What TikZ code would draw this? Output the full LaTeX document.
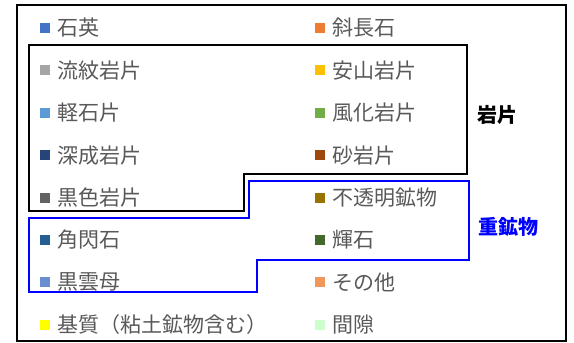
\documentclass[tikz,border=0pt]{standalone}
\usepackage{fontspec}
\setmainfont{Noto Sans CJK JP}
\usepackage{xcolor}
\usetikzlibrary{positioning}

\definecolor{legtext}{HTML}{595959}
\definecolor{cQuartz}{HTML}{4472C4}
\definecolor{cPlag}{HTML}{ED7D31}
\definecolor{cRhyo}{HTML}{A5A5A5}
\definecolor{cAnde}{HTML}{FFC000}
\definecolor{cPumice}{HTML}{5B9BD5}
\definecolor{cWeath}{HTML}{70AD47}
\definecolor{cPluton}{HTML}{264478}
\definecolor{cSand}{HTML}{9E480E}
\definecolor{cBlack}{HTML}{636363}
\definecolor{cOpaque}{HTML}{997300}
\definecolor{cHorn}{HTML}{255E91}
\definecolor{cPyrox}{HTML}{43682B}
\definecolor{cBiot}{HTML}{698ED0}
\definecolor{cOther}{HTML}{F1975A}
\definecolor{cMatrix}{HTML}{FFFF00}
\definecolor{cPore}{HTML}{CCFFCC}

\begin{document}
\begin{tikzpicture}[x=1pt, y=-1pt, node distance=32pt and 7pt,
    every node/.style={font=\fontsize{21}{24}\selectfont},
    swatch/.style={rectangle, minimum size=10pt, inner sep=0pt},
    item/.style={inner sep=0pt, text=legtext, anchor=west},
    group/.style={font=\fontsize{20}{24}\selectfont\bfseries, inner sep=0pt, anchor=west},
]
\useasboundingbox (0,0) rectangle (574,343);

% Frame
\draw[line width=1.8pt] (17,5) rectangle (566,341);

% Left column
\node[swatch, fill=cQuartz] (sq1) at (45,28) {};
\node[swatch, fill=cRhyo, below=of sq1] (sq3) {};
\node[swatch, fill=cPumice, below=of sq3] (sq5) {};
\node[swatch, fill=cPluton, below=of sq5] (sq7) {};
\node[swatch, fill=cBlack, below=of sq7] (sq9) {};
\node[swatch, fill=cHorn, below=of sq9] (sq11) {};
\node[swatch, fill=cBiot, below=of sq11] (sq13) {};
\node[swatch, fill=cMatrix, below=of sq13] (sq15) {};

\node[item, right=of sq1] (quartz) {石英};
\node[item, right=of sq3] (rhyolite) {流紋岩片};
\node[item, right=of sq5] (pumice) {軽石片};
\node[item, right=of sq7] (plutonic) {深成岩片};
\node[item, right=of sq9] (blackrock) {黒色岩片};
\node[item, right=of sq11] (hornblende) {角閃石};
\node[item, right=of sq13] (biotite) {黒雲母};
\node[item, right=of sq15] (matrix) {基質（粘土鉱物含む）};

% Right column
\node[swatch, fill=cPlag] (sq2) at (320,28) {};
\node[swatch, fill=cAnde, below=of sq2] (sq4) {};
\node[swatch, fill=cWeath, below=of sq4] (sq6) {};
\node[swatch, fill=cSand, below=of sq6] (sq8) {};
\node[swatch, fill=cOpaque, below=of sq8] (sq10) {};
\node[swatch, fill=cPyrox, below=of sq10] (sq12) {};
\node[swatch, fill=cOther, below=of sq12] (sq14) {};
\node[swatch, fill=cPore, below=of sq14] (sq16) {};

\node[item, right=of sq2] (plagioclase) {斜長石};
\node[item, right=of sq4] (andesite) {安山岩片};
\node[item, right=of sq6] (weathered) {風化岩片};
\node[item, right=of sq8] (sandstone) {砂岩片};
\node[item, right=of sq10] (opaque) {不透明鉱物};
\node[item, right=of sq12] (pyroxene) {輝石};
\node[item, right=of sq14] (other) {その他};
\node[item, right=of sq16] (pore) {間隙};

% Groups
\draw[line width=1.6pt] (29,45) -- (467,45) -- (467,174) -- (244,174) -- (244,211) -- (29,211) -- cycle;
\draw[blue, line width=1.6pt] (249,181) -- (469,181) -- (469,260) -- (257,260) -- (257,292) -- (29,292) -- (29,218) -- (249,218) -- cycle;

\node[group] (rockfrag) at (477,115) {岩片};
\node[group, text=blue] (heavy) at (478,227) {重鉱物};

\end{tikzpicture}
\end{document}
